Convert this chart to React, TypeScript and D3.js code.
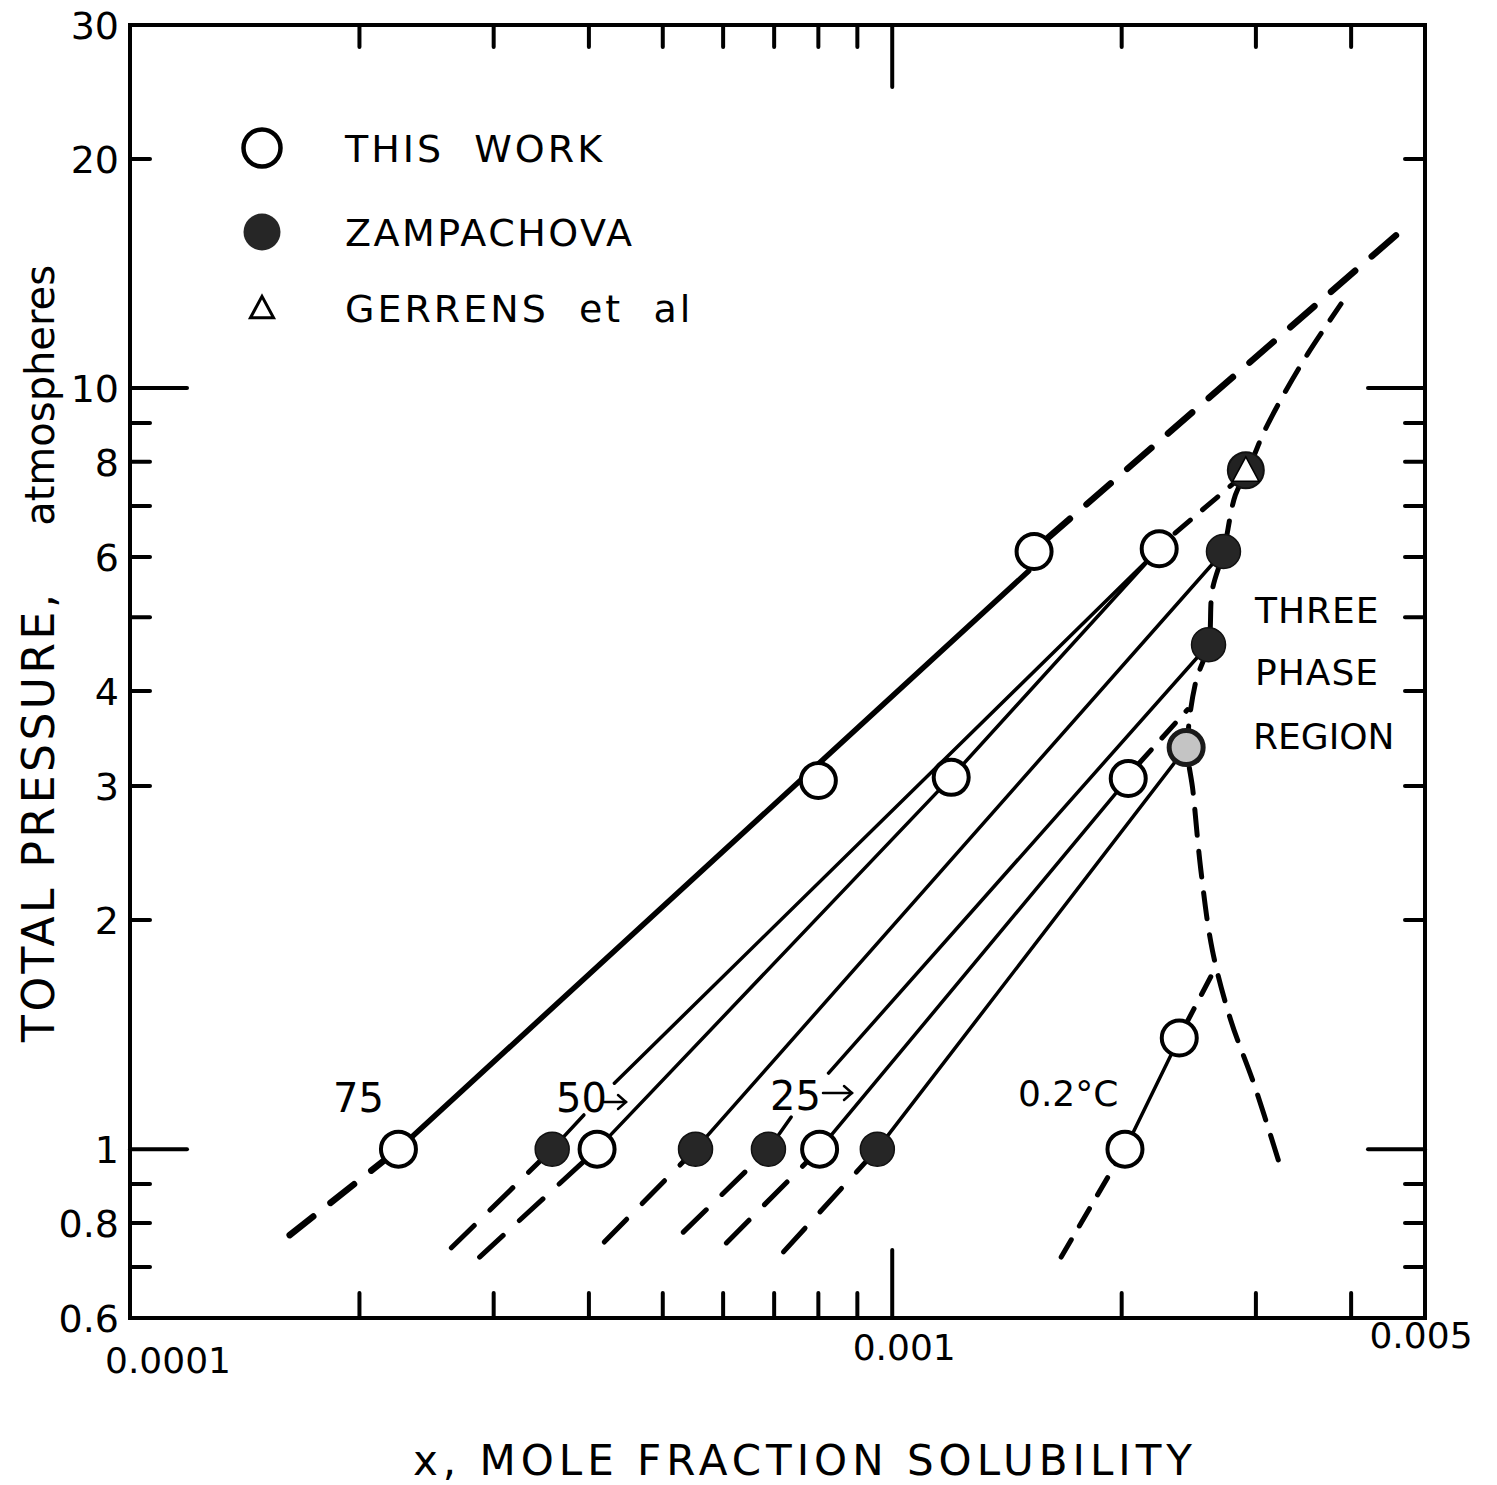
import React from 'react';
import * as d3 from 'd3';

// ---------- axes ----------
const xDomain: [number, number] = [1e-4, 5e-3];
const yDomain: [number, number] = [0.6, 30];
const yLabelValues = [0.6, 0.8, 1, 2, 3, 4, 6, 8, 10, 20, 30];
const yLabelTexts = ['0.6', '0.8', '1', '2', '3', '4', '6', '8', '10', '20', '30'];
const yShortTicks = [0.7, 0.8, 0.9, 2, 3, 4, 5, 6, 7, 8, 9, 20];
const yLongTicks = [1, 10];
const xShortTicks = [2e-4, 3e-4, 4e-4, 5e-4, 6e-4, 7e-4, 8e-4, 9e-4, 2e-3, 3e-3, 4e-3];
const xLongTicks = [1e-3];
const xLabelValues = [1e-4, 1e-3, 5e-3];
const xLabelTexts = ['0.0001', '0.001', '0.005'];

// ---------- data points ----------
const thisWorkX = [2.25e-4, 8.0e-4, 1.535e-3, 4.1e-4, 1.195e-3, 2.24e-3, 8.03e-4, 2.04e-3, 2.02e-3, 2.38e-3];
const thisWorkY = [1.0, 3.05, 6.1, 1.0, 3.08, 6.15, 1.0, 3.07, 1.0, 1.4];
const shadedX = [2.43e-3];
const shadedY = [3.37];
const zampX = [3.58e-4, 5.52e-4, 6.88e-4, 9.56e-4, 2.72e-3, 2.6e-3];
const zampY = [1.0, 1.0, 1.0, 1.0, 6.1, 4.6];
const gerrensX = [2.91e-3];
const gerrensY = [7.8];

// ---------- correlation lines ----------
const line75: [number, number][] = [[2.25e-4, 1.0], [1.51e-3, 5.75]];
const solidLines: [number, number][][] = [
  [[3.58e-4, 1.0], [3.94e-4, 1.109]],
  [[4.32e-4, 1.221], [2.24e-3, 6.15]],
  [[4.1e-4, 1.0], [1.195e-3, 3.08], [2.24e-3, 6.15]],
  [[5.52e-4, 1.0], [2.72e-3, 6.1]],
  [[6.88e-4, 1.0], [7.37e-4, 1.102]],
  [[8.25e-4, 1.259], [2.6e-3, 4.6]],
  [[8.03e-4, 1.0], [2.04e-3, 3.07]],
  [[9.56e-4, 1.0], [2.43e-3, 3.37]],
  [[2.02e-3, 1.0], [2.38e-3, 1.4]],
];
const lowerDashed: [number, number][][] = [
  [[2.64e-4, 0.742], [3.58e-4, 1.0]],
  [[2.875e-4, 0.7215], [4.1e-4, 1.0]],
  [[4.19e-4, 0.755], [5.52e-4, 1.0]],
  [[5.32e-4, 0.778], [6.88e-4, 1.0]],
  [[6.06e-4, 0.753], [8.03e-4, 1.0]],
  [[7.2e-4, 0.733], [9.56e-4, 1.0]],
];
const dashed75Low: [number, number][] = [[1.62e-4, 0.771], [2.25e-4, 1.0]];
const dashed75High: [number, number][] = [[1.59e-3, 6.32], [4.72e-3, 16.3]];
const dashedMisc: [number, number][][] = [
  [[2.35e-3, 6.45], [2.85e-3, 7.6]],
  [[2.1e-3, 3.2], [2.44e-3, 3.78]],
  [[1.666e-3, 0.7215], [1.98e-3, 0.97]],
  [[2.42e-3, 1.45], [2.675e-3, 1.756]],
];
const threePhaseX = [3.21e-3, 2.98e-3, 2.78e-3, 2.63e-3, 2.54e-3, 2.48e-3, 2.44e-3, 2.5e-3, 2.6e-3, 2.63e-3, 2.72e-3, 2.82e-3, 2.93e-3, 3.07e-3, 3.25e-3, 3.51e-3, 3.88e-3];
const threePhaseY = [0.968, 1.221, 1.478, 1.827, 2.33, 2.96, 3.37, 4.1, 4.6, 5.43, 6.09, 7.24, 7.81, 8.73, 9.74, 11.1, 12.9];

const FONT = "'DejaVu Sans', sans-serif";

export default function App() {
  const L = 130, R = 1425, T = 25, B = 1318;
  const x = d3.scaleLog().domain(xDomain).range([L, R]);
  const y = d3.scaleLog().domain(yDomain).range([B, T]);
  const ln = d3.line<[number, number]>().x(d => x(d[0])).y(d => y(d[1]));
  const curve = d3.line<[number, number]>().x(d => x(d[0])).y(d => y(d[1])).curve(d3.curveCatmullRom);
  const tp: [number, number][] = threePhaseX.map((v, i) => [v, threePhaseY[i]]);

  const tri = (cx: number, cy: number, s: number) =>
    `M${cx},${cy - s * 0.6} L${cx + s * 0.55},${cy + s * 0.42} L${cx - s * 0.55},${cy + s * 0.42} Z`;

  const arrow = (x1: number, x2: number, yy: number) => (
    <g stroke="#000" strokeWidth={2.5} fill="none" strokeLinecap="round">
      <line x1={x1} x2={x2} y1={yy} y2={yy} />
      <polyline points={`${x2 - 8},${yy - 7} ${x2},${yy} ${x2 - 8},${yy + 7}`} />
    </g>
  );

  return (
    <svg width={1497} height={1485} style={{ position: 'absolute', left: 0, top: 0, background: '#fff' }} fontFamily={FONT}>
      <rect width={1497} height={1485} fill="#fff" />
      {/* frame */}
      <rect x={L} y={T} width={R - L} height={B - T} fill="none" stroke="#000" strokeWidth={4} />
      {/* ticks */}
      <g stroke="#000" strokeWidth={4} strokeLinecap="round">
        {yShortTicks.map(v => <line key={'ls' + v} x1={L} x2={L + 20} y1={y(v)} y2={y(v)} />)}
        {yLongTicks.map(v => <line key={'ll' + v} x1={L} x2={L + 57} y1={y(v)} y2={y(v)} />)}
        {yShortTicks.map(v => <line key={'rs' + v} x1={R - 20} x2={R} y1={y(v)} y2={y(v)} />)}
        {yLongTicks.map(v => <line key={'rl' + v} x1={R - 57} x2={R} y1={y(v)} y2={y(v)} />)}
        {xShortTicks.map(v => <line key={'ts' + v} x1={x(v)} x2={x(v)} y1={T} y2={T + 22} />)}
        {xLongTicks.map(v => <line key={'tl' + v} x1={x(v)} x2={x(v)} y1={T} y2={T + 62} />)}
        {xShortTicks.map(v => <line key={'bs' + v} x1={x(v)} x2={x(v)} y1={B} y2={B - 25} />)}
        {xLongTicks.map(v => <line key={'bl' + v} x1={x(v)} x2={x(v)} y1={B} y2={B - 68} />)}
      </g>
      {/* tick labels */}
      <g fontSize={38} fill="#000">
        {yLabelValues.map((v, i) => (
          <text key={'yl' + v} x={119} y={y(v)} dy="0.36em" textAnchor="end">{yLabelTexts[i]}</text>
        ))}
      </g>
      <g fontSize={36} fill="#000">
        {xLabelValues.map((v, i) => (
          <text key={'xl' + v} x={x(v) + [38, 12, -4][i]} y={[1360, 1347, 1335][i]} dy="0.36em" textAnchor="middle">{xLabelTexts[i]}</text>
        ))}
      </g>
      {/* axis titles */}
      <text transform="translate(54,1042) rotate(-90)" fontSize={44} letterSpacing={3.5} textAnchor="start">TOTAL PRESSURE,</text>
      <text transform="translate(54,265) rotate(-90)" fontSize={40} textAnchor="end">atmospheres</text>
      <text x={805} y={1460} dy="0.36em" fontSize={42} letterSpacing={5} textAnchor="middle">x, MOLE FRACTION SOLUBILITY</text>

      {/* lines */}
      <g fill="none" stroke="#000" strokeLinecap="round">
        <path d={ln(line75) || ''} strokeWidth={5.5} />
        {solidLines.map((s, i) => <path key={'s' + i} d={ln(s) || ''} strokeWidth={3.5} />)}
        <path d={ln(dashed75Low) || ''} strokeWidth={6.5} strokeDasharray="30 22" />
        <path d={ln(dashed75High) || ''} strokeWidth={6.5} strokeDasharray="32 22" />
        {lowerDashed.map((s, i) => <path key={'ld' + i} d={ln(s) || ''} strokeWidth={5} strokeDasharray="32 22" />)}
        {dashedMisc.map((s, i) => <path key={'dm' + i} d={ln(s) || ''} strokeWidth={5} strokeDasharray="20 16" />)}
        <path d={curve(tp) || ''} strokeWidth={5} strokeDasharray="26 16" />
      </g>

      {/* markers */}
      {thisWorkX.map((v, i) => (
        <circle key={'tw' + i} cx={x(v)} cy={y(thisWorkY[i])} r={17.5} fill="#fff" stroke="#000" strokeWidth={4} />
      ))}
      {shadedX.map((v, i) => (
        <circle key={'sh' + i} cx={x(v)} cy={y(shadedY[i])} r={17} fill="#c4c4c4" stroke="#1a1a1a" strokeWidth={5} />
      ))}
      {zampX.map((v, i) => (
        <circle key={'z' + i} cx={x(v)} cy={y(zampY[i])} r={17} fill="#262626" stroke="#111" strokeWidth={1.5} />
      ))}
      {gerrensX.map((v, i) => (
        <g key={'g' + i}>
          <circle cx={x(v)} cy={y(gerrensY[i])} r={18} fill="#222" stroke="#111" strokeWidth={2} />
          <path d={tri(x(v), y(gerrensY[i]) + 1, 24)} fill="#fff" stroke="#000" strokeWidth={1.5} />
        </g>
      ))}

      {/* legend */}
      <circle cx={262} cy={148} r={18.5} fill="#fff" stroke="#000" strokeWidth={4.5} />
      <circle cx={262} cy={232} r={18.5} fill="#262626" />
      <path d={tri(262, 309, 21)} fill="none" stroke="#000" strokeWidth={3} strokeLinejoin="miter" />
      <g fontSize={38}>
        <text x={345} y={148} dy="0.36em" letterSpacing={3} style={{ whiteSpace: 'pre' }}>THIS  WORK</text>
        <text x={345} y={232} dy="0.36em" letterSpacing={2.5}>ZAMPACHOVA</text>
        <text x={345} y={308} dy="0.36em" letterSpacing={3} style={{ whiteSpace: 'pre' }}>GERRENS  et  al</text>
      </g>

      {/* annotations */}
      <g fontSize={36}>
        <text x={1255} y={610} dy="0.36em" letterSpacing={1}>THREE</text>
        <text x={1255} y={672} dy="0.36em" letterSpacing={1}>PHASE</text>
        <text x={1253} y={736} dy="0.36em">REGION</text>
      </g>
      <g fontSize={40}>
        <text x={333} y={1098} dy="0.36em">75</text>
        <text x={556} y={1098} dy="0.36em">50</text>
        <text x={770} y={1096} dy="0.36em">25</text>
        <text x={1018} y={1093} dy="0.36em" fontSize={36}>0.2°C</text>
      </g>
      {arrow(604, 626, 1102)}
      {arrow(823, 852, 1093)}
    </svg>
  );
}
